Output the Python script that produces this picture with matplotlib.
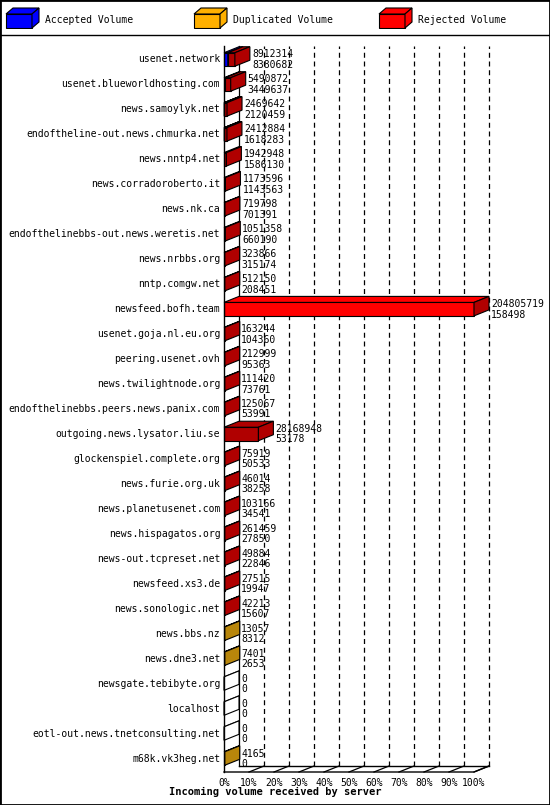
import numpy as np
import matplotlib.pyplot as plt
from matplotlib.patches import Polygon, Rectangle
from matplotlib.lines import Line2D

servers = ['usenet.network', 'usenet.blueworldhosting.com', 'news.samoylyk.net',
           'endoftheline-out.news.chmurka.net', 'news.nntp4.net', 'news.corradoroberto.it',
           'news.nk.ca', 'endofthelinebbs-out.news.weretis.net', 'news.nrbbs.org',
           'nntp.comgw.net', 'newsfeed.bofh.team', 'usenet.goja.nl.eu.org',
           'peering.usenet.ovh', 'news.twilightnode.org', 'endofthelinebbs.peers.news.panix.com',
           'outgoing.news.lysator.liu.se', 'glockenspiel.complete.org', 'news.furie.org.uk',
           'news.planetusenet.com', 'news.hispagatos.org', 'news-out.tcpreset.net',
           'newsfeed.xs3.de', 'news.sonologic.net', 'news.bbs.nz', 'news.dne3.net',
           'newsgate.tebibyte.org', 'localhost', 'eotl-out.news.tnetconsulting.net',
           'm68k.vk3heg.net']
volume = [8912314, 5490872, 2469642, 2412884, 1942948, 1173596, 719798, 1051358,
          323866, 512150, 204805719, 163244, 212999, 111420, 125067, 28168948, 75919,
          46014, 103166, 261459, 49884, 27515, 42213, 13057, 7401, 0, 0, 0, 4165]
articles = [8380682, 3449637, 2120459, 1618283, 1586130, 1143563, 701391, 660190,
            315174, 208451, 158498, 104360, 95363, 73761, 53991, 53178, 50533, 38258,
            34541, 27850, 22846, 19947, 15607, 8312, 2653, 0, 0, 0, 0]
# share of each bar: accepted / duplicated (rest rejected)
accepted_share = [0.35, 0.2, 0.08, 0.1] + [0.0] * 25
duplicated_share = [0.0] * 23 + [1.0, 1.0, 0.0, 0.0, 0.0, 1.0]

C_ACC = '#0000ff'
C_DUP = '#b8860b'
C_REJ = '#ff0000'
C_REJ_DARK = '#b00000'

W, H = 550, 805
fig = plt.figure(figsize=(W / 100, H / 100), dpi=100)
mono = 'DejaVu Sans Mono'
fs = 7

ax = fig.add_axes([224 / W, 1 - 772 / H, 250 / W, (772 - 46) / H])
n = len(servers)
ax.set_xlim(0, 100)
ax.set_ylim(n - 0.5 + 0.04, -0.5 - 0.04)
ax.axis('off')

dx = 6.0      # depth in % units
dy = 0.24     # depth in rows
bh = 0.27
ymin, ymax = ax.get_ylim()

def box(x0, x1, y, color, top=None, side=None):
    top = top or color
    side = side or color
    t, b = y - bh, y + bh
    ax.add_patch(Rectangle((x0, t), x1 - x0, 2 * bh, fc=color, ec='black', lw=0.8, clip_on=False, zorder=5))
    ax.add_patch(Polygon([(x0, t), (x1, t), (x1 + dx, t - dy), (x0 + dx, t - dy)],
                         fc=top, ec='black', lw=0.8, clip_on=False, zorder=5))
    ax.add_patch(Polygon([(x1, t), (x1, b), (x1 + dx, b - dy), (x1 + dx, t - dy)],
                         fc=side, ec='black', lw=0.8, clip_on=False, zorder=5))

# back wall grid
for p in range(10, 101, 10):
    ax.plot([p + dx, p + dx], [ymin - dy, ymax], ls=(0, (4, 3)), color='black', lw=0.9, zorder=1, clip_on=False)
    ax.plot([p, p + dx], [ymin, ymin - dy], color='black', lw=0.9, zorder=1, clip_on=False)
ax.plot([dx, dx], [ymin - dy, ymax], color='black', lw=0.9, zorder=1, clip_on=False)
ax.plot([0, 0], [ymin, ymax], color='black', lw=1.0, zorder=6, clip_on=False)
ax.plot([0, 100, 100 + dx], [ymin, ymin, ymin - dy], color='black', lw=1.0, zorder=6, clip_on=False)
ax.plot([dx, 100 + dx], [ymin - dy, ymin - dy], color='black', lw=1.0, zorder=1, clip_on=False)

vmax = max(volume)
for i in range(n):
    L = volume[i] / vmax * 100
    if volume[i] == 0:
        box(0, 0, i, 'white')
    else:
        L = max(L, 0.3)
        a = L * accepted_share[i]
        d = L * duplicated_share[i]
        x = 0
        if a > 0:
            box(x, x + a, i, C_ACC)
            x += a
        if d > 0:
            box(x, x + d, i, C_DUP)
            x += d
        if L - x > 1e-6:
            big = L > 50
            box(x, L, i, C_REJ if big else C_REJ_DARK, top=C_REJ if big else C_REJ_DARK,
                side=C_REJ_DARK)
    xe = (volume[i] / vmax * 100 if volume[i] else 0) + dx + 0.8
    ax.text(xe, i - 0.2, str(volume[i]), fontsize=fs, family=mono, va='center', ha='left', zorder=7)
    ax.text(xe, i + 0.22, str(articles[i]), fontsize=fs, family=mono, va='center', ha='left', zorder=7)
    ax.text(-1.5, i, servers[i], fontsize=fs, family=mono, va='center', ha='right')

for p in range(0, 101, 10):
    ax.text(p, ymin + 0.45, f'{p}%', fontsize=fs, family=mono, ha='center', va='center')

fig.text(275 / W, 1 - 792 / H, 'Incoming volume received by server', fontsize=fs + 0.5,
         family=mono, weight='bold', ha='center', va='center')

# legend
legend = [('Accepted Volume', C_ACC, 5), ('Duplicated Volume', '#ffb000', 193), ('Rejected Volume', C_REJ, 378)]
for label, col, x0 in legend:
    lax = fig.add_axes([x0 / W, 1 - 29 / H, 36 / W, 22 / H])
    lax.set_xlim(0, 36); lax.set_ylim(22, 0); lax.axis('off')
    lax.add_patch(Rectangle((1, 7), 26, 14, fc=col, ec='black', lw=0.8))
    lax.add_patch(Polygon([(1, 7), (27, 7), (34, 1), (8, 1)], fc=col, ec='black', lw=0.8))
    lax.add_patch(Polygon([(27, 7), (27, 21), (34, 15), (34, 1)], fc=col, ec='black', lw=0.8))
    fig.text((x0 + 40) / W, 1 - 20 / H, label, fontsize=fs, family=mono, va='center')

fig.add_artist(Line2D([0, 1], [1 - 35.5 / H] * 2, color='black', lw=1))
fig.add_artist(Rectangle((0, 0), 1, 1, fill=False, ec='black', lw=2, transform=fig.transFigure))
fig.savefig('out.png', dpi=100)
